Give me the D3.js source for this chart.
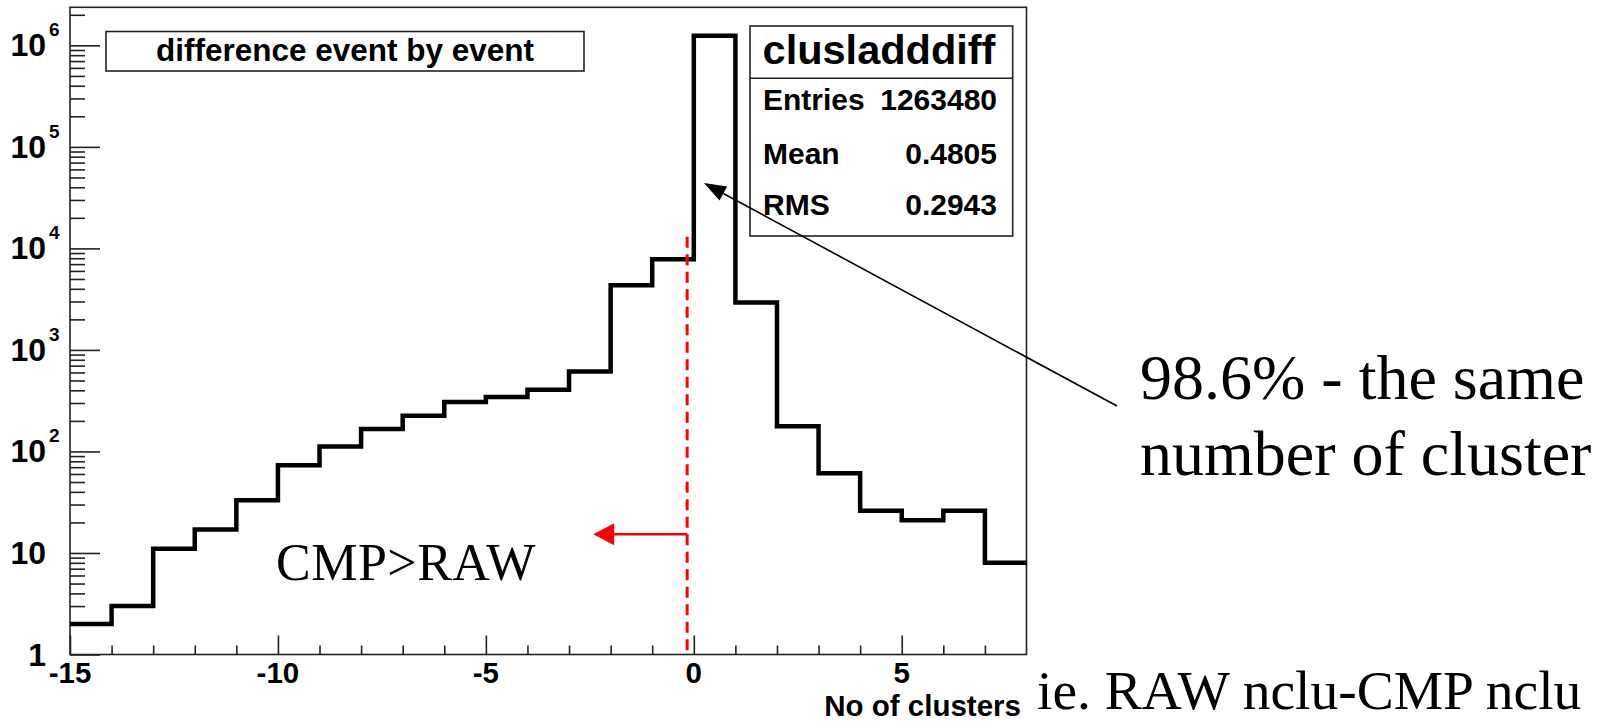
<!DOCTYPE html>
<html>
<head>
<meta charset="utf-8">
<script src="https://cdn.jsdelivr.net/npm/d3@7"></script>
<style>
  html, body { margin: 0; padding: 0; background: #ffffff; }
  svg { display: block; }
</style>
</head>
<body>
<svg id="chart" width="1603" height="723"></svg>
<script>
// ---------------- data ----------------
const binLow = [-15,-14,-13,-12,-11,-10,-9,-8,-7,-6,-5,-4,-3,-2,-1,0,1,2,3,4,5,6,7];
const binWidth = 1;
const counts = [2,3,11,17,33,73,112,166,225,307,344,406,614,4330,7800,1245783,2935,177,61,26,21,26,8];

const xMajorTicks = [-15,-10,-5,0,5];
const xMinorTicks = [-14,-13,-12,-11,-9,-8,-7,-6,-4,-3,-2,-1,1,2,3,4,6,7];
const xTickLabels = ["-15","-10","-5","0","5"];

const yMajorTicks = [1,10,100,1000,10000,100000,1000000];
const yLabelBase = ["1","10","10","10","10","10","10"];
const yLabelExp  = ["","","2","3","4","5","6"];

const histName = "clusladddiff";
const statsLabels = ["Entries","Mean","RMS"];
const statsValues = ["1263480","0.4805","0.2943"];
const legendText = "difference event by event";
const xAxisTitle = "No of clusters";
const noteX = "ie. RAW nclu-CMP nclu";
const noteSame = ["98.6% - the same","number of cluster"];
const noteLeft = "CMP>RAW";

// ---------------- layout ----------------
const svg = d3.select("#chart");
const frame = {left: 70, right: 1026.5, top: 7.3, bottom: 654.5};

const x = d3.scaleLinear().domain([-15, 8]).range([frame.left, frame.right]);
const y = d3.scaleLog().domain([1, 2.37e6]).range([frame.bottom, frame.top]);

const sans = "'Liberation Sans', Arial, Helvetica, sans-serif";
const serif = "'Liberation Serif', 'Times New Roman', Times, serif";

// minor y ticks 2..9 per decade
const yMinorTicks = [];
for (let k = 0; k <= 6; k++) {
  for (let m = 2; m <= 9; m++) {
    const v = m * Math.pow(10, k);
    if (v < 2.37e6) yMinorTicks.push(v);
  }
}

// frame
svg.append("rect")
  .attr("x", frame.left).attr("y", frame.top)
  .attr("width", frame.right - frame.left).attr("height", frame.bottom - frame.top)
  .attr("fill", "none").attr("stroke", "#222").attr("stroke-width", 1.6);

function styleAxis(g) {
  g.select(".domain").remove();
  g.selectAll(".tick line").attr("stroke", "#222").attr("stroke-width", 1.6);
  g.selectAll(".tick text").remove();
}
svg.append("g").attr("transform", `translate(${frame.left},0)`)
  .call(d3.axisRight(y).tickValues(yMajorTicks).tickSize(30).tickFormat(""))
  .call(styleAxis);
svg.append("g").attr("transform", `translate(${frame.left},0)`)
  .call(d3.axisRight(y).tickValues(yMinorTicks).tickSize(15).tickFormat(""))
  .call(styleAxis);

svg.append("g").attr("transform", `translate(0,${frame.bottom})`)
  .call(d3.axisTop(x).tickValues(xMajorTicks).tickSize(19).tickFormat(""))
  .call(styleAxis);
svg.append("g").attr("transform", `translate(0,${frame.bottom})`)
  .call(d3.axisTop(x).tickValues(xMinorTicks).tickSize(9).tickFormat(""))
  .call(styleAxis);

// y labels
yMajorTicks.forEach((v, i) => {
  const ty = y(v);
  svg.append("text")
    .attr("x", 46).attr("y", ty + 11)
    .attr("text-anchor", "end")
    .attr("font-family", sans).attr("font-weight", "bold").attr("font-size", 32)
    .attr("fill", "#000")
    .text(yLabelBase[i]);
  if (yLabelExp[i]) {
    svg.append("text")
      .attr("x", 49).attr("y", ty - 9)
      .attr("font-family", sans).attr("font-weight", "bold").attr("font-size", 19)
      .attr("fill", "#000")
      .text(yLabelExp[i]);
  }
});

// x labels
xMajorTicks.forEach((v, i) => {
  svg.append("text")
    .attr("x", x(v)).attr("y", 683)
    .attr("text-anchor", "middle")
    .attr("font-family", sans).attr("font-weight", "bold").attr("font-size", 29.5)
    .attr("fill", "#000")
    .text(xTickLabels[i]);
});

// x axis title
svg.append("text")
  .attr("x", 1021).attr("y", 716)
  .attr("text-anchor", "end")
  .attr("font-family", sans).attr("font-weight", "bold").attr("font-size", 29.5)
  .attr("fill", "#000")
  .text(xAxisTitle);

// histogram step line
let d = "";
binLow.forEach((b, i) => {
  const yy = y(counts[i]);
  if (i === 0) d += `M${x(b)},${yy}`;
  else d += `V${yy}`;
  d += `H${x(b + binWidth)}`;
});
svg.append("path")
  .attr("d", d)
  .attr("fill", "none").attr("stroke", "#000").attr("stroke-width", 4.5)
  .attr("stroke-linejoin", "miter").attr("stroke-linecap", "butt");

// legend box
svg.append("rect")
  .attr("x", 106).attr("y", 31.5).attr("width", 478).attr("height", 39.5)
  .attr("fill", "#fff").attr("stroke", "#222").attr("stroke-width", 1.6);
svg.append("text")
  .attr("x", 345).attr("y", 61)
  .attr("text-anchor", "middle")
  .attr("font-family", sans).attr("font-weight", "bold").attr("font-size", 31.5)
  .attr("fill", "#000")
  .text(legendText);

// stats box
svg.append("rect")
  .attr("x", 750).attr("y", 26).attr("width", 262.7).attr("height", 210)
  .attr("fill", "#fff").attr("stroke", "#222").attr("stroke-width", 1.6);
svg.append("line")
  .attr("x1", 750).attr("x2", 1012.7).attr("y1", 78.3).attr("y2", 78.3)
  .attr("stroke", "#222").attr("stroke-width", 1.6);
svg.append("text")
  .attr("x", 879).attr("y", 64)
  .attr("text-anchor", "middle")
  .attr("font-family", sans).attr("font-weight", "bold").attr("font-size", 41.5)
  .attr("fill", "#000")
  .text(histName);
const rowY = [110, 164, 215];
statsLabels.forEach((lab, i) => {
  svg.append("text")
    .attr("x", 763).attr("y", rowY[i])
    .attr("font-family", sans).attr("font-weight", "bold").attr("font-size", 30)
    .attr("fill", "#000").text(lab);
  svg.append("text")
    .attr("x", 997).attr("y", rowY[i])
    .attr("text-anchor", "end")
    .attr("font-family", sans).attr("font-weight", "bold").attr("font-size", 30)
    .attr("fill", "#000").text(statsValues[i]);
});

// red dashed line at ~ -0.16
const redX = x(-0.16);
svg.append("line")
  .attr("x1", redX).attr("x2", redX)
  .attr("y1", y(13000)).attr("y2", frame.bottom)
  .attr("stroke", "#ff0000").attr("stroke-width", 3)
  .attr("stroke-dasharray", "11,6.5");

// red arrow pointing left
const rArrowY = y(15.3);
const rTip = x(-2.42);
svg.append("line")
  .attr("x1", redX).attr("x2", rTip + 18)
  .attr("y1", rArrowY).attr("y2", rArrowY)
  .attr("stroke", "#ff0000").attr("stroke-width", 2.6);
svg.append("path")
  .attr("d", `M${rTip},${rArrowY} L${rTip + 21},${rArrowY - 11} L${rTip + 21},${rArrowY + 11} Z`)
  .attr("fill", "#ff0000");

// black annotation arrow
const ax0 = 1117, ay0 = 406;
const axT = x(0.245), ayT = y(44000);
const dx = axT - ax0, dy = ayT - ay0;
const len = Math.hypot(dx, dy);
const ux = dx / len, uy = dy / len;
const hl = 22, hw = 8;
const bx = axT - ux * hl, by = ayT - uy * hl;
svg.append("line")
  .attr("x1", ax0).attr("y1", ay0).attr("x2", bx).attr("y2", by)
  .attr("stroke", "#000").attr("stroke-width", 1.6);
svg.append("path")
  .attr("d", `M${axT},${ayT} L${bx - uy * hw},${by + ux * hw} L${bx + uy * hw},${by - ux * hw} Z`)
  .attr("fill", "#000");

// slide annotations (serif)
svg.append("text")
  .attr("x", 1140).attr("y", 399)
  .attr("font-family", serif).attr("font-size", 64).attr("fill", "#000")
  .text(noteSame[0]);
svg.append("text")
  .attr("x", 1140).attr("y", 475)
  .attr("font-family", serif).attr("font-size", 64).attr("fill", "#000")
  .text(noteSame[1]);
svg.append("text")
  .attr("x", 276).attr("y", 580)
  .attr("font-family", serif).attr("font-size", 52).attr("fill", "#000")
  .attr("letter-spacing", 0.5)
  .text(noteLeft);
svg.append("text")
  .attr("x", 1037).attr("y", 709)
  .attr("font-family", serif).attr("font-size", 55.5).attr("fill", "#000")
  .text(noteX);
</script>
</body>
</html>
